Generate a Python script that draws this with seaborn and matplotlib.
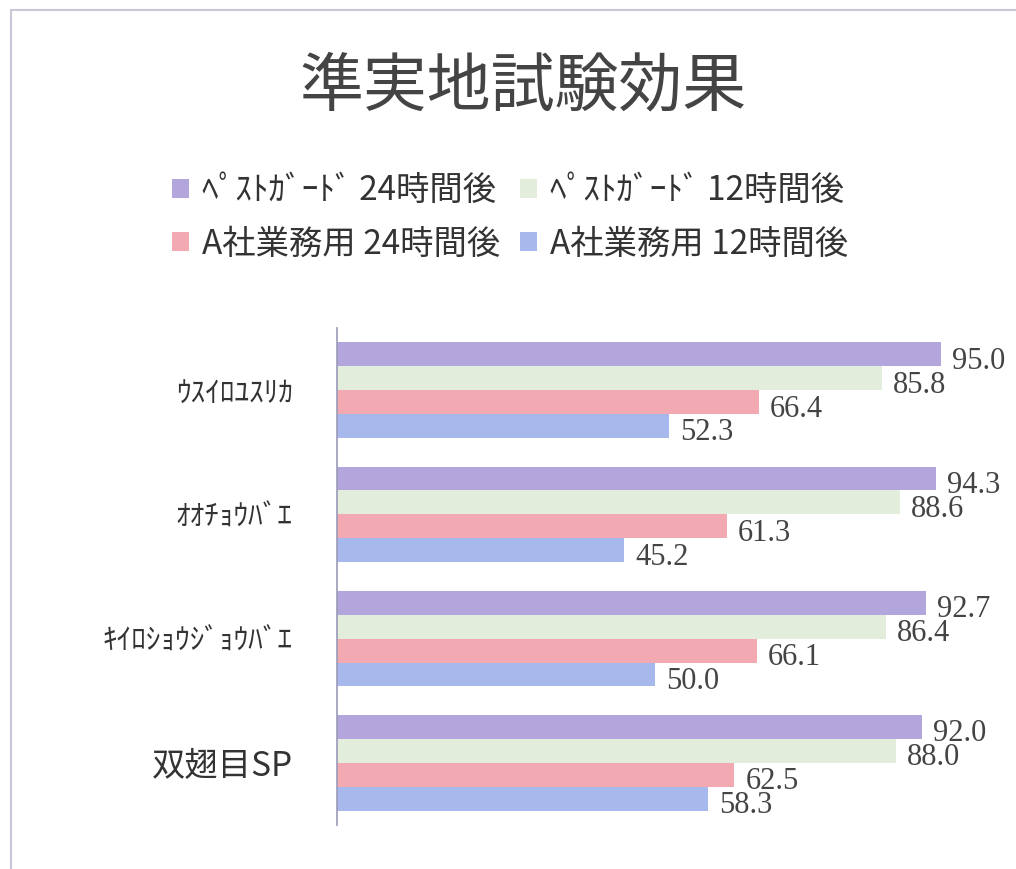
import pandas as pd
import seaborn as sns
import matplotlib.pyplot as plt
from matplotlib.patches import Rectangle

# Data
categories = ["ｳｽｲﾛﾕｽﾘｶ", "ｵｵﾁｮｳﾊﾞｴ", "ｷｲﾛｼｮｳｼﾞｮｳﾊﾞｴ", "双翅目SP"]
series = ["ﾍﾟｽﾄｶﾞｰﾄﾞ 24時間後", "ﾍﾟｽﾄｶﾞｰﾄﾞ 12時間後", "A社業務用 24時間後", "A社業務用 12時間後"]
pest_24h = [95.0, 94.3, 92.7, 92.0]
pest_12h = [85.8, 88.6, 86.4, 88.0]
a_24h = [66.4, 61.3, 66.1, 62.5]
a_12h = [52.3, 45.2, 50.0, 58.3]
colors = ["#b3a6dc", "#e3eddc", "#f3a9b2", "#a7b9ec"]

rows = []
for name, vals in zip(series, [pest_24h, pest_12h, a_24h, a_12h]):
    for cat, v in zip(categories, vals):
        rows.append({"category": cat, "series": name, "value": v})
df = pd.DataFrame(rows)

sns.set_style("white")
plt.rcParams['font.family'] = ['Noto Sans CJK JP', 'DejaVu Sans']

fig = plt.figure(figsize=(10.16, 8.69), dpi=100)
ax = fig.add_axes([0.332, 1 - 825 / 869, 0.625, 497 / 869])

sns.barplot(data=df, y="category", x="value", hue="series", hue_order=series,
            order=categories, palette=colors, orient="h", width=0.77,
            saturation=1, ax=ax, legend=True, edgecolor="none")

ax.set_xlim(0, 100)
ax.set_xlabel("")
ax.set_ylabel("")
ax.set_xticks([])
for s in ["top", "right", "bottom"]:
    ax.spines[s].set_visible(False)
ax.spines["left"].set_color("#9a9ab8")
ax.spines["left"].set_linewidth(1.2)
ax.tick_params(axis="y", length=0, pad=32)

# category labels
for lbl in ax.get_yticklabels():
    lbl.set_fontsize(24 if lbl.get_text() == "双翅目SP" else 21)
    lbl.set_color("#333333")

# value labels
for cont in ax.containers:
    for bar in cont:
        w = bar.get_width()
        yc = bar.get_y() + bar.get_height() / 2
        ax.annotate(f"{w:.1f}", xy=(w, yc), xytext=(8, -5), textcoords="offset points",
                    ha="left", va="center", fontsize=22, color="#444444",
                    family="Liberation Serif", annotation_clip=False)

# legend, row-wise order
handles, labels = ax.get_legend_handles_labels()
ax.get_legend().remove()
idx = [0, 2, 1, 3]
fig.legend([handles[i] for i in idx], [labels[i] for i in idx],
           loc="upper left", bbox_to_anchor=(0.14, 0.835), ncol=2,
           frameon=False, fontsize=24, handlelength=0.5, handleheight=0.5,
           handletextpad=0.4, columnspacing=0.6, labelspacing=0.55,
           labelcolor="#333333")

fig.text(0.515, 0.9, "準実地試験効果", ha="center", va="center", fontsize=46, color="#444444")

# outer frame
fig.patches.append(Rectangle((0.011, -0.01), 1.0, 0.998, transform=fig.transFigure,
                             fill=False, edgecolor="#c8c8d8", linewidth=1.5))

fig.savefig("out.png", dpi=100)
